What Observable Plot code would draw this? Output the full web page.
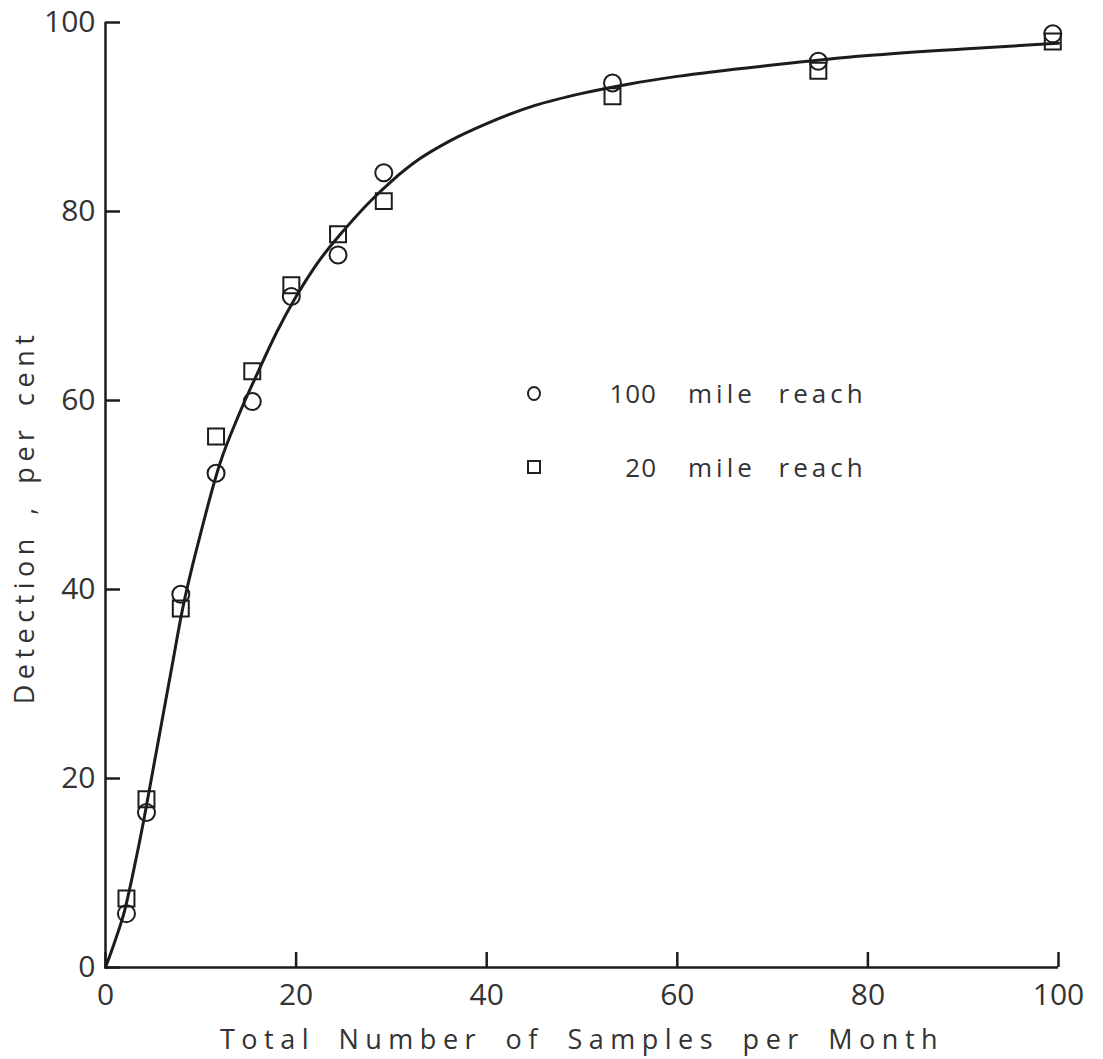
<!DOCTYPE html>
<html>
<head>
<meta charset="utf-8">
<script src="https://cdn.jsdelivr.net/npm/d3@7"></script>
<script src="https://cdn.jsdelivr.net/npm/@observablehq/plot@0.6"></script>
<style>
  html, body { margin: 0; padding: 0; background: #fff; }
  #wrap { position: relative; width: 1103px; height: 1059px; overflow: hidden; }
  .legend { position: absolute; left: 520px; top: 356px; font-family: 'Open Sans', sans-serif; font-weight: 400;
            font-size: 26px; color: #333; }
  .legend .row { display: flex; align-items: center; height: 74px; }
  .legend .sym { width: 10px; height: 10px; border: 2px solid #222; margin-left: 7px; box-sizing: content-box; }
  .legend .sym.circle { border-radius: 50%; height: 11px; }
  .legend .num { width: 116px; text-align: right; letter-spacing: 1px; }
  .legend .txt { margin-left: 31px; letter-spacing: 4px; word-spacing: 12px; }
</style>
</head>
<body>
<div id="wrap"></div>
<script>
// ---- data ----
const samples   = [2.2, 4.3, 7.9, 11.6, 15.4, 19.5, 24.4, 29.2, 53.2, 74.8, 99.4];
const reach100  = [5.7, 16.4, 39.5, 52.3, 59.9, 71.0, 75.4, 84.1, 93.6, 95.9, 98.8];
const reach20   = [7.3, 17.8, 38.0, 56.2, 63.1, 72.2, 77.6, 81.1, 92.2, 94.9, 98.0];
const curveX = [0, 1, 2, 3, 4, 5, 6, 7, 8, 10, 12, 14, 16, 18, 20, 22, 25, 28, 30, 33, 36, 40, 45, 50, 55, 60, 70, 80, 90, 100];
const curveY = [0, 2.8, 6, 10.5, 15.5, 21, 26.5, 32, 37.5, 46, 53.3, 58.5, 63, 67.3, 71, 74.2, 78, 81.3, 83.2, 85.6, 87.4, 89.3, 91.2, 92.5, 93.5, 94.3, 95.5, 96.5, 97.2, 97.8];
const xTicks = [0, 20, 40, 60, 80, 100];
const yTicks = [0, 20, 40, 60, 80, 100];
const xLabel = "Total Number of Samples per Month";
const yLabel = "Detection , per cent";
const legendLabels  = ["100 mile reach", "20 mile reach"];
const legendSymbols = ["circle", "square"];

// ---- build tables ----
const pts100 = samples.map((x, i) => ({x, y: reach100[i]}));
const pts20  = samples.map((x, i) => ({x, y: reach20[i]}));
const curve  = curveX.map((x, i) => ({x, y: curveY[i]}));

const W = 1103, H = 1059, mL = 105, mR = 45, mT = 22, mB = 92;
const ink = "#1c1c1c";
const tickLen = 15;

const chart = Plot.plot({
  width: W, height: H,
  marginLeft: mL, marginRight: mR, marginTop: mT, marginBottom: mB,
  style: {fontFamily: "'Open Sans', sans-serif", fontWeight: 400, color: "#333", background: "#fff"},
  x: {domain: [0, 100]},
  y: {domain: [0, 100]},
  marks: [
    Plot.axisX(xTicks, {anchor: "bottom", tickSize: 0, tickPadding: 16, fontSize: 30, label: null}),
    Plot.axisY(yTicks, {anchor: "left", tickSize: 0, tickPadding: 10, fontSize: 30, label: null}),
    Plot.tickX(xTicks, {x: d => d, insetTop: (H - mT - mB) - tickLen, stroke: ink, strokeWidth: 2.5}),
    Plot.tickY(yTicks, {y: d => d, insetRight: (W - mL - mR) - tickLen, stroke: ink, strokeWidth: 2.5}),
    Plot.ruleX([0], {stroke: ink, strokeWidth: 2.5}),
    Plot.ruleY([0], {stroke: ink, strokeWidth: 2.5}),
    Plot.line(curve, {x: "x", y: "y", curve: "monotone-x", stroke: ink, strokeWidth: 3}),
    Plot.dot(pts100, {x: "x", y: "y", symbol: "circle", r: 8.5, fill: "none", stroke: ink, strokeWidth: 2}),
    Plot.dot(pts20, {x: "x", y: "y", symbol: "square", r: 9, fill: "none", stroke: ink, strokeWidth: 2}),
    Plot.text([xLabel], {frameAnchor: "bottom", textAnchor: "middle", lineAnchor: "middle", dy: 73, fontSize: 27, fill: "#333"}),
    Plot.text([yLabel], {frameAnchor: "left", textAnchor: "middle", lineAnchor: "middle", rotate: -90, dx: -80, dy: 22, fontSize: 27, fill: "#333"})
  ]
});

const wrap = document.getElementById("wrap");
wrap.appendChild(chart);

d3.select(chart).selectAll("text").each(function() {
  const t = this.textContent;
  if (t === xLabel) d3.select(this).attr("letter-spacing", 6.5).attr("word-spacing", 10);
  if (t === yLabel) d3.select(this).attr("letter-spacing", 5.5).attr("word-spacing", 6);
});

// legend inside the plot area
const legend = d3.select(wrap).append("div").attr("class", "legend");
legendLabels.forEach((lab, i) => {
  const sp = lab.indexOf(" ");
  const row = legend.append("div").attr("class", "row");
  row.append("span").attr("class", "sym " + legendSymbols[i]);
  row.append("span").attr("class", "num").text(lab.slice(0, sp));
  row.append("span").attr("class", "txt").text(lab.slice(sp + 1));
});
</script>
</body>
</html>
